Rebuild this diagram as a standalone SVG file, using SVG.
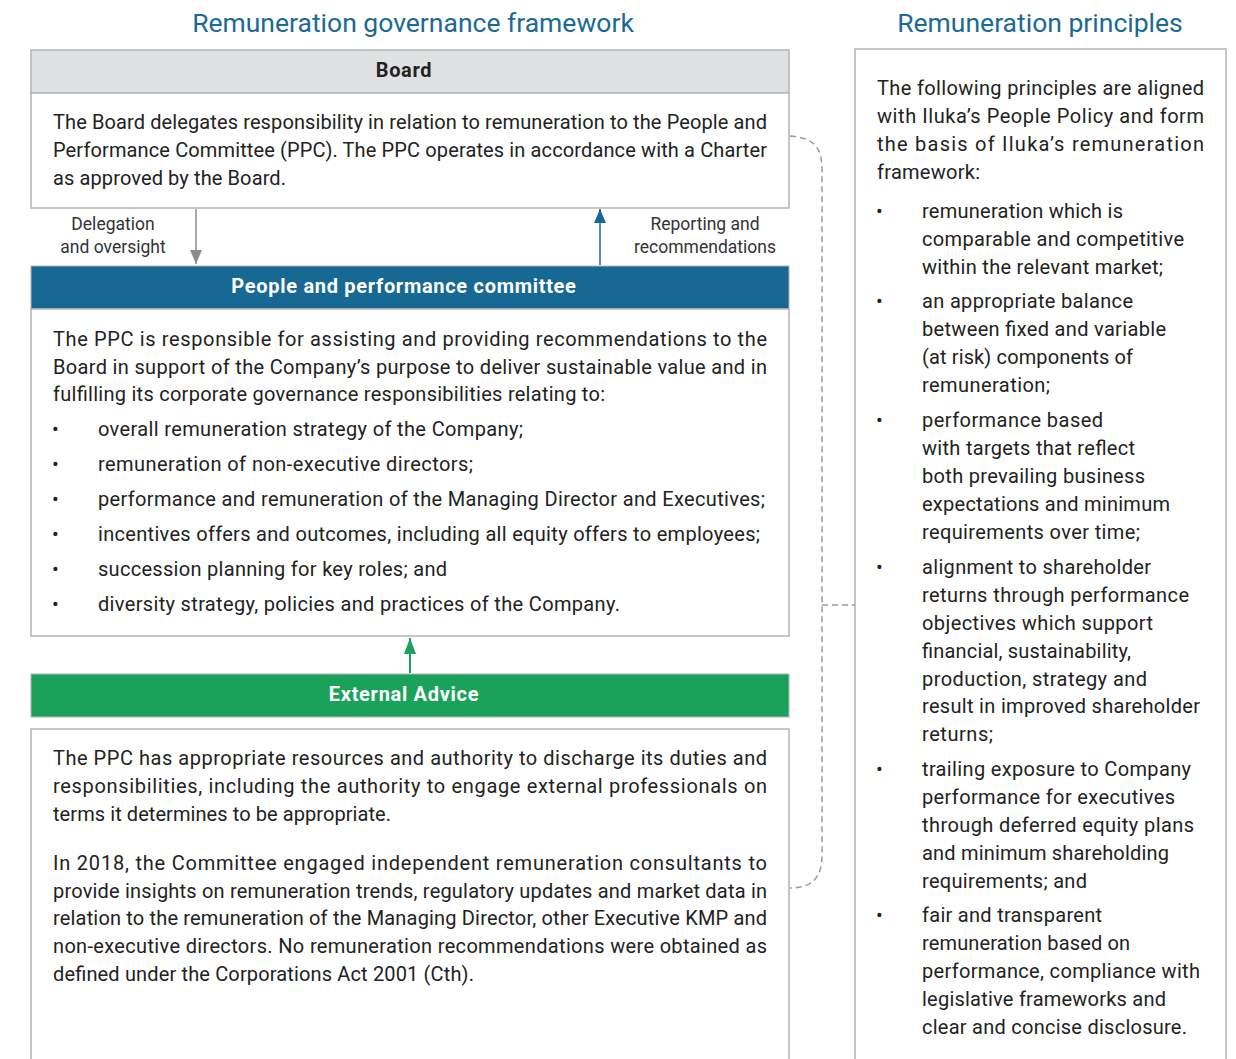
<svg xmlns="http://www.w3.org/2000/svg" width="1236" height="1059" viewBox="0 0 1236 1059">
<style>
text{font-family:Roboto,"Liberation Sans",sans-serif;fill:#222}
.title{font-size:26.5px;fill:#1b6a95;text-anchor:middle}
.hd{font-size:20px;font-weight:bold;text-anchor:middle;letter-spacing:0.7px}
.w{fill:#fff}
.b{font-size:20px}
.lbl{font-size:17.5px;text-anchor:middle;fill:#333}
.box{fill:#fff;stroke:#b4b4b4;stroke-width:1.5}
</style>
<defs>
<marker id="ag" markerWidth="14" markerHeight="12" refX="14" refY="6" orient="auto" markerUnits="userSpaceOnUse" viewBox="0 0 14 12"><path d="M0,0 L14,6 L0,12 Z" fill="#8a8d90"/></marker>
<marker id="ab" markerWidth="14" markerHeight="12" refX="14" refY="6" orient="auto" markerUnits="userSpaceOnUse" viewBox="0 0 14 12"><path d="M0,0 L14,6 L0,12 Z" fill="#186894"/></marker>
<marker id="agr" markerWidth="16" markerHeight="12" refX="16" refY="6" orient="auto" markerUnits="userSpaceOnUse" viewBox="0 0 16 12"><path d="M0,0 L16,6 L0,12 Z" fill="#1ba25a"/></marker>
</defs>
<rect width="1236" height="1059" fill="#fff"/>
<text class="title" x="413" y="32">Remuneration governance framework</text>
<text class="title" x="1040" y="32">Remuneration principles</text>

<g id="board">
<rect x="31" y="50" width="758" height="43" fill="#dfe2e3" stroke="#b4b4b4" stroke-width="1.5"/>
<text class="hd" x="404" y="77">Board</text>
<rect class="box" x="31" y="93" width="758" height="115"/>
<text class="b" x="53" y="129" textLength="714" lengthAdjust="spacing">The Board delegates responsibility in relation to remuneration to the People and</text>
<text class="b" x="53" y="157" textLength="714" lengthAdjust="spacing">Performance Committee (PPC). The PPC operates in accordance with a Charter</text>
<text class="b" x="53" y="185" textLength="233" lengthAdjust="spacing">as approved by the Board.</text>
</g>

<g id="ppc">
<rect x="31" y="266" width="758" height="43" fill="#186894" stroke="#b4b4b4" stroke-width="1"/>
<text class="hd w" x="404" y="293">People and performance committee</text>
<rect class="box" x="31" y="309" width="758" height="327"/>
<text class="b" x="53" y="346" textLength="714" lengthAdjust="spacing">The PPC is responsible for assisting and providing recommendations to the</text>
<text class="b" x="53" y="374" textLength="714" lengthAdjust="spacing">Board in support of the Company’s purpose to deliver sustainable value and in</text>
<text class="b" x="53" y="401" textLength="552" lengthAdjust="spacing">fulfilling its corporate governance responsibilities relating to:</text>
<text class="b" x="52" y="436">•</text>
<text class="b" x="98" y="436" textLength="425" lengthAdjust="spacing">overall remuneration strategy of the Company;</text>
<text class="b" x="52" y="471">•</text>
<text class="b" x="98" y="471" textLength="375" lengthAdjust="spacing">remuneration of non-executive directors;</text>
<text class="b" x="52" y="506">•</text>
<text class="b" x="98" y="506" textLength="667" lengthAdjust="spacing">performance and remuneration of the Managing Director and Executives;</text>
<text class="b" x="52" y="541">•</text>
<text class="b" x="98" y="541" textLength="662" lengthAdjust="spacing">incentives offers and outcomes, including all equity offers to employees;</text>
<text class="b" x="52" y="576">•</text>
<text class="b" x="98" y="576" textLength="349" lengthAdjust="spacing">succession planning for key roles; and</text>
<text class="b" x="52" y="611">•</text>
<text class="b" x="98" y="611" textLength="522" lengthAdjust="spacing">diversity strategy, policies and practices of the Company.</text>
</g>

<g id="external">
<rect x="31" y="674" width="758" height="43" fill="#1ba25a" stroke="#b4b4b4" stroke-width="1"/>
<text class="hd w" x="404" y="701">External Advice</text>
<rect class="box" x="31" y="729" width="758" height="340"/>
<text class="b" x="53" y="765" textLength="714" lengthAdjust="spacing">The PPC has appropriate resources and authority to discharge its duties and</text>
<text class="b" x="53" y="793" textLength="714" lengthAdjust="spacing">responsibilities, including the authority to engage external professionals on</text>
<text class="b" x="53" y="821" textLength="338" lengthAdjust="spacing">terms it determines to be appropriate.</text>
<text class="b" x="53" y="870" textLength="714" lengthAdjust="spacing">In 2018, the Committee engaged independent remuneration consultants to</text>
<text class="b" x="53" y="898" textLength="714" lengthAdjust="spacing">provide insights on remuneration trends, regulatory updates and market data in</text>
<text class="b" x="53" y="925" textLength="714" lengthAdjust="spacing">relation to the remuneration of the Managing Director, other Executive KMP and</text>
<text class="b" x="53" y="953" textLength="714" lengthAdjust="spacing">non-executive directors. No remuneration recommendations were obtained as</text>
<text class="b" x="53" y="981" textLength="421" lengthAdjust="spacing">defined under the Corporations Act 2001 (Cth).</text>
</g>

<g id="principles">
<rect class="box" x="855" y="49" width="371" height="1020"/>
<text class="b" x="877" y="95" textLength="327" lengthAdjust="spacing">The following principles are aligned</text>
<text class="b" x="877" y="123" textLength="327" lengthAdjust="spacing">with Iluka’s People Policy and form</text>
<text class="b" x="877" y="151" textLength="327" lengthAdjust="spacing">the basis of Iluka’s remuneration</text>
<text class="b" x="877" y="179" textLength="103" lengthAdjust="spacing">framework:</text>
<text class="b" x="876" y="218">•</text>
<text class="b" x="922" y="218" textLength="201" lengthAdjust="spacing">remuneration which is</text>
<text class="b" x="922" y="246" textLength="262" lengthAdjust="spacing">comparable and competitive</text>
<text class="b" x="922" y="274" textLength="241" lengthAdjust="spacing">within the relevant market;</text>
<text class="b" x="876" y="308">•</text>
<text class="b" x="922" y="308" textLength="211" lengthAdjust="spacing">an appropriate balance</text>
<text class="b" x="922" y="336" textLength="244" lengthAdjust="spacing">between fixed and variable</text>
<text class="b" x="922" y="364" textLength="211" lengthAdjust="spacing">(at risk) components of</text>
<text class="b" x="922" y="392" textLength="128" lengthAdjust="spacing">remuneration;</text>
<text class="b" x="876" y="427">•</text>
<text class="b" x="922" y="427" textLength="181" lengthAdjust="spacing">performance based</text>
<text class="b" x="922" y="455" textLength="213" lengthAdjust="spacing">with targets that reflect</text>
<text class="b" x="922" y="483" textLength="223" lengthAdjust="spacing">both prevailing business</text>
<text class="b" x="922" y="511" textLength="248" lengthAdjust="spacing">expectations and minimum</text>
<text class="b" x="922" y="539" textLength="218" lengthAdjust="spacing">requirements over time;</text>
<text class="b" x="876" y="574">•</text>
<text class="b" x="922" y="574" textLength="229" lengthAdjust="spacing">alignment to shareholder</text>
<text class="b" x="922" y="602" textLength="267" lengthAdjust="spacing">returns through performance</text>
<text class="b" x="922" y="630" textLength="231" lengthAdjust="spacing">objectives which support</text>
<text class="b" x="922" y="658" textLength="209" lengthAdjust="spacing">financial, sustainability,</text>
<text class="b" x="922" y="686" textLength="225" lengthAdjust="spacing">production, strategy and</text>
<text class="b" x="922" y="713" textLength="278" lengthAdjust="spacing">result in improved shareholder</text>
<text class="b" x="922" y="741" textLength="71" lengthAdjust="spacing">returns;</text>
<text class="b" x="876" y="776">•</text>
<text class="b" x="922" y="776" textLength="269" lengthAdjust="spacing">trailing exposure to Company</text>
<text class="b" x="922" y="804" textLength="253" lengthAdjust="spacing">performance for executives</text>
<text class="b" x="922" y="832" textLength="272" lengthAdjust="spacing">through deferred equity plans</text>
<text class="b" x="922" y="860" textLength="247" lengthAdjust="spacing">and minimum shareholding</text>
<text class="b" x="922" y="888" textLength="165" lengthAdjust="spacing">requirements; and</text>
<text class="b" x="876" y="922">•</text>
<text class="b" x="922" y="922" textLength="180" lengthAdjust="spacing">fair and transparent</text>
<text class="b" x="922" y="950" textLength="208" lengthAdjust="spacing">remuneration based on</text>
<text class="b" x="922" y="978" textLength="278" lengthAdjust="spacing">performance, compliance with</text>
<text class="b" x="922" y="1006" textLength="244" lengthAdjust="spacing">legislative frameworks and</text>
<text class="b" x="922" y="1034" textLength="265" lengthAdjust="spacing">clear and concise disclosure.</text>
</g>

<g id="connectors">
<line x1="196" y1="209" x2="196" y2="264" stroke="#8a8d90" stroke-width="1.5" marker-end="url(#ag)"/>
<line x1="600" y1="265" x2="600" y2="209" stroke="#186894" stroke-width="1.5" marker-end="url(#ab)"/>
<line x1="410" y1="673" x2="410" y2="638" stroke="#1ba25a" stroke-width="2" marker-end="url(#agr)"/>
<path d="M790,136 C815,138 822,148 822,170 L822,855 C822,878 812,888 790,888" fill="none" stroke="#9a9a9a" stroke-width="1.5" stroke-dasharray="6,4"/>
<line x1="822" y1="605" x2="855" y2="605" stroke="#9a9a9a" stroke-width="1.5" stroke-dasharray="6,4"/>
<text class="lbl" x="113" y="230">Delegation</text>
<text class="lbl" x="113" y="253">and oversight</text>
<text class="lbl" x="705" y="230">Reporting and</text>
<text class="lbl" x="705" y="253">recommendations</text>
</g>
</svg>
